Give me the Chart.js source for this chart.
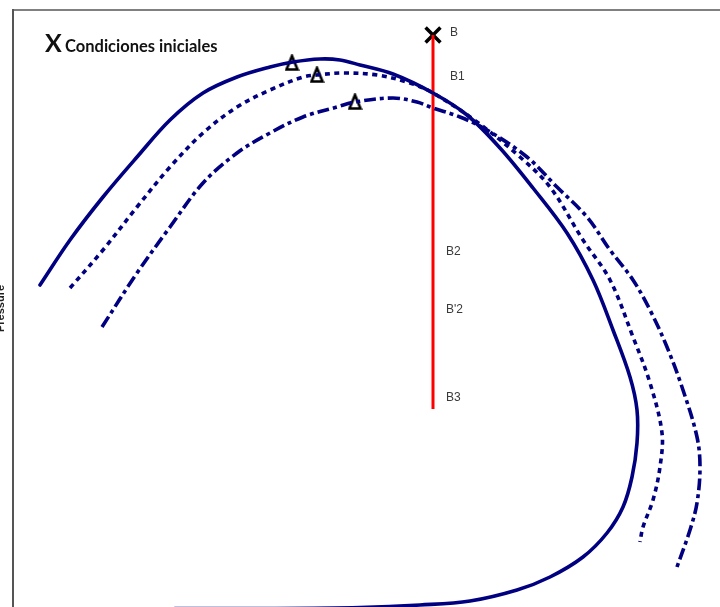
<!DOCTYPE html>
<html>
<head>
<meta charset="utf-8">
<script src="https://cdn.jsdelivr.net/npm/chart.js@4/dist/chart.umd.min.js"></script>
<style>
  html, body { margin: 0; padding: 0; background: #fff; overflow: hidden; }
  #wrap { position: relative; width: 720px; height: 607px; overflow: hidden; }
  #c { position: absolute; left: -6px; top: 0; }
</style>
</head>
<body>
<div id="wrap"><canvas id="c" width="726" height="607"></canvas></div>
<script>
// Phase envelopes (temperature T, pressure P, arbitrary units)
const envelopeT = [27, 57, 90, 124, 157, 190, 224, 257, 280, 307, 327, 347, 380, 420, 454, 487, 520, 554, 580, 600, 617, 624, 624, 619, 610, 594, 570, 537, 504, 457, 407, 347, 250, 162];
const envelopeP = [322, 367, 410, 450, 487, 514, 530, 540, 545, 548, 547, 542, 533, 514, 492, 459, 419, 374, 327, 277, 230, 197, 164, 130, 100, 74, 50, 30, 17, 6, 2, -0.5, -1.5, -1.5];

const envelope1T = [57, 90, 124, 157, 190, 224, 257, 290, 304, 330, 364, 397, 420, 464, 507, 537, 570, 597, 620, 637, 649, 647, 640, 630, 627];
const envelope1P = [319, 357, 400, 440, 474, 500, 517, 530, 532, 534, 532, 524, 514, 485, 450, 420, 367, 327, 270, 224, 174, 140, 107, 80, 65];

const envelope2T = [89, 124, 157, 190, 224, 257, 290, 324, 342, 380, 404, 420, 447, 474, 514, 544, 574, 597, 620, 637, 654, 670, 684, 687, 684, 677, 664];
const envelope2P = [280, 334, 380, 424, 454, 474, 490, 500, 505, 509, 505, 499, 490, 477, 450, 420, 390, 357, 327, 297, 260, 217, 170, 140, 104, 77, 40];

// Cricondenbar points of each envelope
const peakT = [279, 304, 342];
const peakP = [544, 532, 505];

// Initial condition and isothermal depletion path
const initialT = [420];
const initialP = [572];
const pathT = [420, 420];
const pathP = [572, 198];

// Annotated states along the path
const stateNames = ['B', 'B1', 'B2', "B'2", 'B3'];
const stateT = [437, 437, 433, 433, 433];
const stateP = [574, 530, 355, 297, 209];

const legendMark = 'X';
const legendText = 'Condiciones iniciales';
const yTitle = 'Pressure';

const pts = (xs, ys) => xs.map((x, i) => ({ x, y: ys[i] }));

// open triangle marker
const tri = document.createElement('canvas');
tri.width = 15; tri.height = 18;
(function () {
  const g = tri.getContext('2d');
  g.beginPath();
  g.moveTo(7.5, 2);
  g.lineTo(13, 15.5);
  g.lineTo(2, 15.5);
  g.closePath();
  g.fillStyle = '#fff';
  g.fill();
  g.lineWidth = 2.6;
  g.strokeStyle = '#000';
  g.stroke();
})();

const NAVY = '#000080';

const annotations = {
  id: 'annotations',
  afterDatasetsDraw(chart) {
    const { ctx, scales: { x, y } } = chart;
    ctx.save();
    ctx.fillStyle = '#3a3a3a';
    ctx.font = '12px "Liberation Sans", Arial, sans-serif';
    ctx.textBaseline = 'middle';
    ctx.textAlign = 'left';
    stateNames.forEach((s, i) => {
      ctx.fillText(s, x.getPixelForValue(stateT[i]), y.getPixelForValue(stateP[i]));
    });
    // legend entry
    ctx.fillStyle = '#111';
    ctx.textBaseline = 'alphabetic';
    ctx.font = 'bold 25px Lato, "Open Sans", sans-serif';
    ctx.fillText(legendMark, 51, 52);
    ctx.font = 'bold 16.5px Lato, "Open Sans", sans-serif';
    ctx.fillText(legendText, 71, 52);
    ctx.restore();
  }
};

const lineDefaults = { showLine: true, pointRadius: 0, borderColor: NAVY, fill: false, tension: 0.35, borderCapStyle: 'round' };

new Chart(document.getElementById('c'), {
  type: 'scatter',
  data: {
    datasets: [
      { ...lineDefaults, data: pts(envelopeT, envelopeP), borderWidth: 3.6 },
      { ...lineDefaults, data: pts(envelope1T, envelope1P), borderWidth: 3.6, borderDash: [5, 4.5], borderCapStyle: 'butt' },
      { ...lineDefaults, data: pts(envelope2T, envelope2P), borderWidth: 3.6, borderDash: [12, 4, 4, 4], borderCapStyle: 'butt' },
      { showLine: true, data: pts(pathT, pathP), borderColor: '#ff0000', borderWidth: 3, pointRadius: 0, tension: 0 },
      { data: pts(peakT, peakP), pointStyle: tri, pointRadius: 7 },
      { data: pts(initialT, initialP), pointStyle: 'crossRot', pointRadius: 10.5, borderColor: '#000', borderWidth: 3.5 }
    ]
  },
  options: {
    responsive: false,
    animation: false,
    devicePixelRatio: 1,
    layout: { autoPadding: false, padding: { left: 1.5, top: 10, right: 0, bottom: 0 } },
    plugins: { legend: { display: false }, tooltip: { enabled: false } },
    scales: {
      x: {
        type: 'linear', position: 'top', min: 0, max: 707,
        ticks: { display: false },
        grid: { display: false, drawTicks: false },
        border: { display: true, color: '#808080', width: 2 }
      },
      y: {
        type: 'linear', min: 0, max: 597,
        ticks: { display: false },
        grid: { display: false, drawTicks: false },
        border: { display: true, color: '#555', width: 2 },
        title: {
          display: true, text: yTitle, color: '#222',
          font: { family: '"Liberation Sans", Arial', size: 11, weight: 'bold', lineHeight: 1 },
          padding: { top: 0, bottom: 6.5 }
        }
      }
    }
  },
  plugins: [annotations]
});
</script>
</body>
</html>
